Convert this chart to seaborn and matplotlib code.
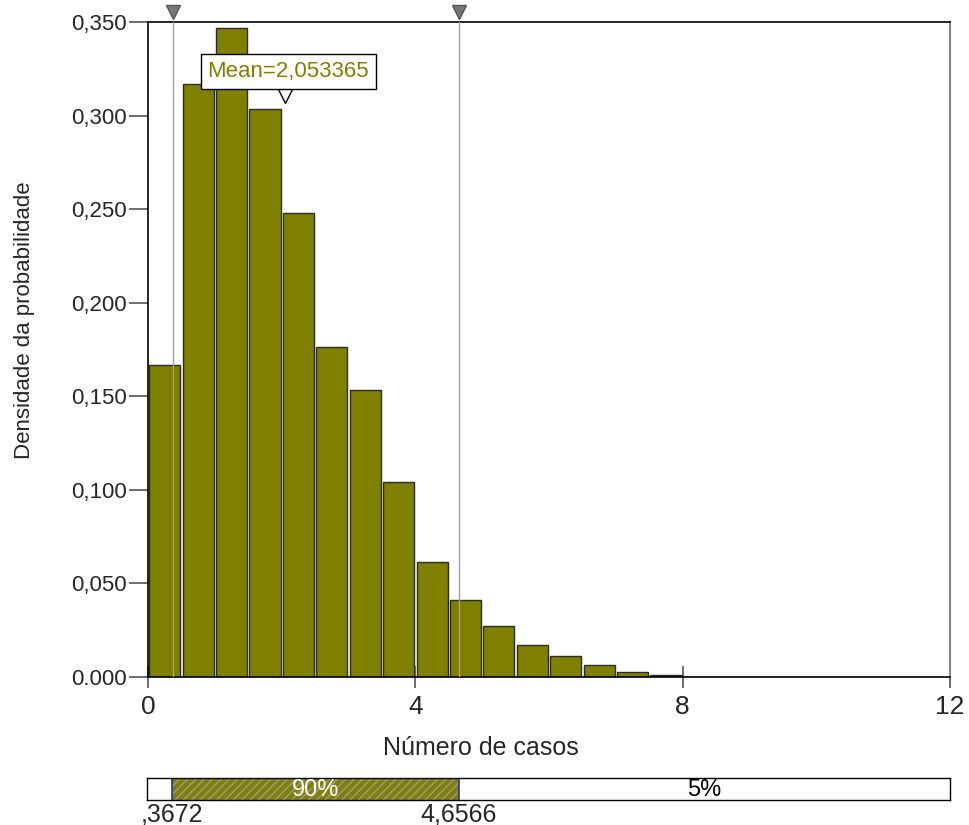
import matplotlib
matplotlib.use("Agg")
import matplotlib.pyplot as plt
import matplotlib.transforms as mtransforms
import numpy as np
import pandas as pd
import seaborn as sns

# Histogram bins (left edges, width 0.5) and probability density per bin
bin_left = [0.0, 0.5, 1.0, 1.5, 2.0, 2.5, 3.0, 3.5, 4.0, 4.5, 5.0, 5.5, 6.0, 6.5, 7.0, 7.5]
density = [0.1667, 0.3170, 0.3470, 0.3036, 0.2480, 0.1765, 0.1535, 0.1040,
           0.0615, 0.0412, 0.0272, 0.0171, 0.0110, 0.0062, 0.0027, 0.0010]
bin_width = 0.5

mean_value = 2.053365
lower_delim = 0.3672
upper_delim = 4.6566
lower_label = ",3672"
upper_label = "4,6566"
mid_pct = "90%"
right_pct = "5%"

y_ticks = [0.0, 0.05, 0.10, 0.15, 0.20, 0.25, 0.30, 0.35]
y_tick_labels = ["0.000", "0,050", "0,100", "0,150", "0,200", "0,250", "0,300", "0,350"]
x_ticks = [0, 4, 8, 12]
x_tick_labels = ["0", "4", "8", "12"]

olive = "#808000"

sns.set_style("white")
plt.rcParams["font.family"] = ["Liberation Sans", "DejaVu Sans"]

fig = plt.figure(figsize=(9.7, 8.25), dpi=100)
ax = fig.add_axes([0.1526, 0.1794, 0.8268, 0.7939])

df = pd.DataFrame({
    "x": np.array(bin_left) + bin_width / 2,
    "w": density,
})
edges = list(bin_left) + [bin_left[-1] + bin_width]
sns.histplot(data=df, x="x", weights="w", bins=edges, stat="count",
             shrink=0.93, color=olive, edgecolor="#2b2b2b", linewidth=1.0,
             alpha=1.0, ax=ax)

ax.set_xlim(0, 12)
ax.set_ylim(0, 0.35)
ax.set_xlabel("")
ax.set_ylabel("")

ax.set_yticks(y_ticks)
ax.set_yticklabels(y_tick_labels, fontsize=16)
ax.set_xticks(x_ticks)
ax.set_xticklabels(x_tick_labels, fontsize=19)
ax.tick_params(axis="y", direction="out", length=14, width=1.2, color="#555555",
               left=True, pad=1)
ax.tick_params(axis="x", direction="inout", length=16, width=1.2, color="#555555",
               bottom=True, pad=5)

for side in ["left", "top", "bottom"]:
    ax.spines[side].set_color("black")
    ax.spines[side].set_linewidth(1.2)
ax.spines["right"].set_color("#888888")
ax.spines["right"].set_linewidth(1.5)

# Delimiter lines with markers above the plot area
trans = mtransforms.blended_transform_factory(ax.transData, ax.transAxes)
for xv in [lower_delim, upper_delim]:
    ax.axvline(xv, color="#a0a0a0", linewidth=1.0, zorder=3)
    ax.plot([xv], [1.015], marker="v", markersize=10, color="#777777",
            markeredgecolor="#555555", transform=trans, clip_on=False, zorder=5)

# Mean marker and label
ax.plot([mean_value], [0.3135], marker="v", markersize=19, markerfacecolor="white",
        markeredgecolor="black", markeredgewidth=1.0, zorder=6, clip_on=False)
ax.text(2.1, 0.3235, "Mean=2,053365", color=olive, fontsize=16,
        ha="center", va="center", zorder=7,
        bbox=dict(boxstyle="square,pad=0.3", facecolor="white",
                  edgecolor="black", linewidth=1.0))

fig.text(0.025, 0.612, "Densidade da probabilidade", rotation=90,
         ha="center", va="center", fontsize=16)
fig.text(0.496, 0.093, "Número de casos", ha="center", va="center", fontsize=18)

# Percentile bar below the chart
ax2 = fig.add_axes([0.1515, 0.0303, 0.828, 0.0267])
ax2.set_xlim(0, 12)
ax2.set_ylim(0, 1)
ax2.axvspan(lower_delim, upper_delim, facecolor=olive, edgecolor="#9a9a9a",
            hatch="////", linewidth=0)
for xv in [lower_delim, upper_delim]:
    ax2.axvline(xv, color="#333388", linewidth=1.2)
ax2.set_xticks([])
ax2.set_yticks([])
for s in ax2.spines.values():
    s.set_color("black")
    s.set_linewidth(1.0)
ax2.text((lower_delim + upper_delim) / 2, 0.45, mid_pct, color="white",
         ha="center", va="center", fontsize=17)
ax2.text((upper_delim + 12) / 2, 0.45, right_pct, color="black",
         ha="center", va="center", fontsize=17)
ax2.text(lower_delim, -0.1, lower_label, ha="center", va="top", fontsize=18)
ax2.text(upper_delim, -0.1, upper_label, ha="center", va="top", fontsize=18)

fig.savefig("out.png", dpi=100)
